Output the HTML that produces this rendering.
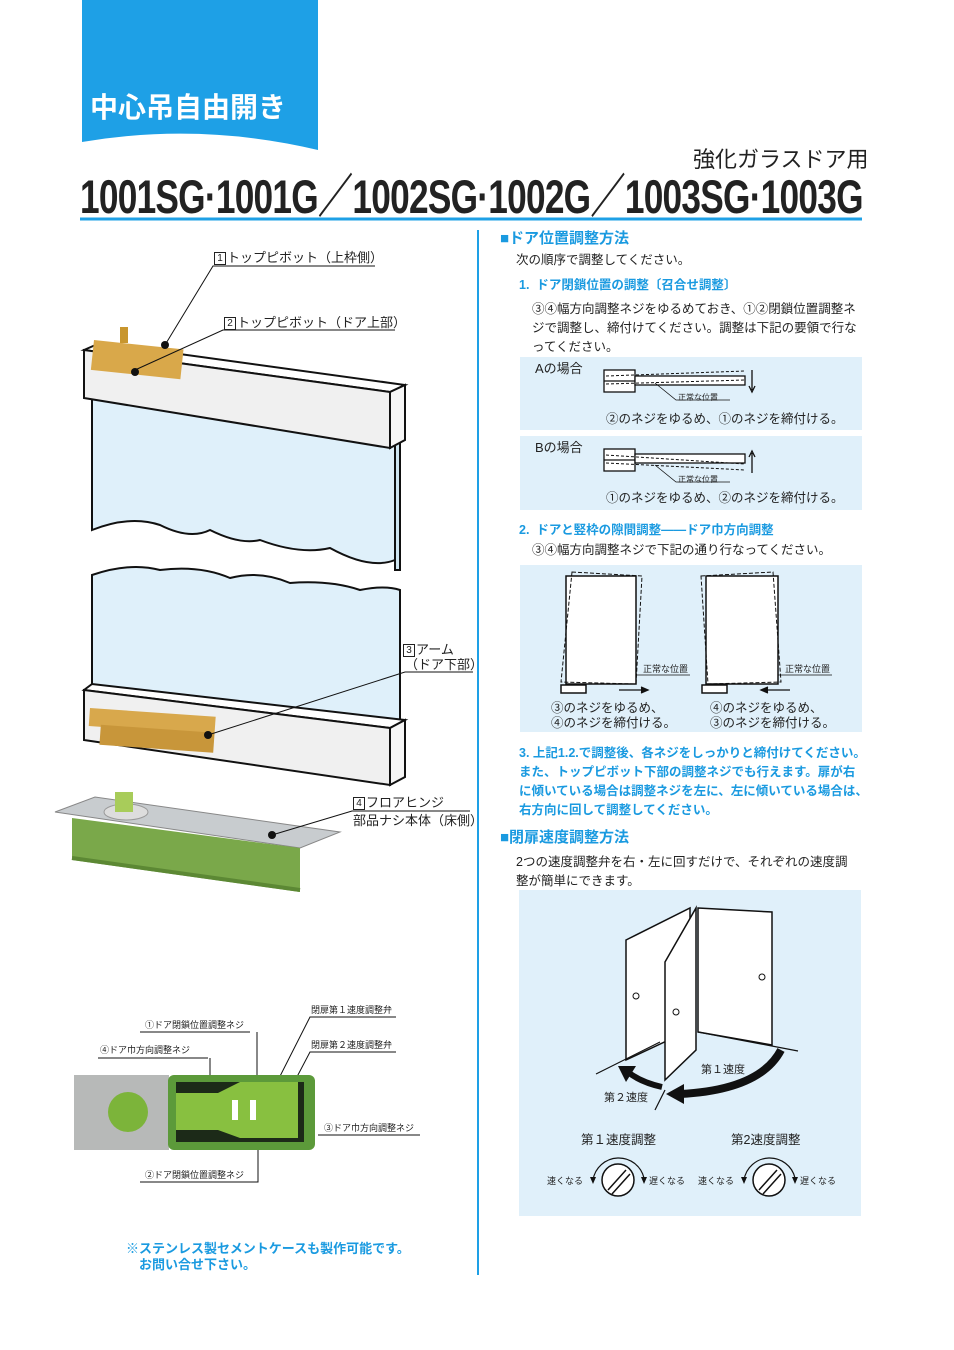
<!DOCTYPE html>
<html><head><meta charset="utf-8"><style>
body{margin:0;background:#fff}
#p{position:relative;width:954px;height:1350px;overflow:hidden;font-family:"Liberation Sans","Noto Sans CJK JP",sans-serif;color:#222}
.t{position:absolute;white-space:nowrap;line-height:1}
.b{color:#1a9ae0;font-weight:bold}
.bx{display:inline-block;border:1px solid #222;font-size:10px;line-height:11px;width:10px;text-align:center;margin-right:1px;vertical-align:1px}
svg{position:absolute;left:0;top:0}
</style></head><body><div id="p">
<svg width="954" height="1350" viewBox="0 0 954 1350">
<path d="M82 0H318V150Q200 122 82 142Z" fill="#1ea0e6"/>
<line x1="80" y1="219" x2="862" y2="219" stroke="#1ea0e6" stroke-width="3"/>
<line x1="478" y1="230" x2="478" y2="1275" stroke="#1ea0e6" stroke-width="2"/>
<rect x="520" y="357" width="342" height="73" fill="#e0f0fa"/>
<rect x="520" y="436" width="342" height="74" fill="#e0f0fa"/>
<rect x="520" y="565" width="342" height="167" fill="#e0f0fa"/>
<rect x="519" y="890" width="342" height="326" fill="#e0f0fa"/>
<g stroke="#111" fill="#fff" stroke-width="1.3">
<rect x="604" y="370" width="31" height="22"/><rect x="635" y="376" width="110" height="9"/>
<line x1="604" y1="381" x2="635" y2="381"/>
<rect x="604" y="449" width="31" height="22"/><rect x="635" y="454" width="110" height="9"/>
<line x1="604" y1="460" x2="635" y2="460"/>
</g>
<g stroke="#111" stroke-width="1" stroke-dasharray="3,2" fill="none">
<path d="M606 376L745 371M606 384L745 380"/><path d="M606 455L745 464M606 463L745 470"/>
</g>
<path d="M655 383L676 400H730M655 465L676 482H730" stroke="#111" fill="none" stroke-width=".8"/>
<path d="M752 370V390M749 386L752 392L755 386M752 473V453M749 457L752 451L755 457" stroke="#111" fill="none" stroke-width="1.3"/>
<g stroke="#111" fill="#fff" stroke-width="1.5">
<rect x="566" y="576" width="70" height="108"/><rect x="706" y="576" width="72" height="108"/>
<rect x="561" y="685" width="25" height="8"/><rect x="702" y="685" width="25" height="8"/>
</g>
<g stroke="#111" stroke-width="1" stroke-dasharray="4,2" fill="none">
<path d="M572 572L642 576L636 684L561 682Z"/><path d="M701 576L773 572L781 682L708 684Z"/>
</g>
<path d="M636 675H690M778 675H832" stroke="#111" stroke-width=".8"/>
<path d="M619 690H645M641 687L648 690L641 693M790 690H765M768 687L761 690L768 693" stroke="#111" stroke-width="1.3" fill="#111"/>
<g stroke="#111" fill="#fff" stroke-width="1.5">
<path d="M626 940L690 908V1030L626 1060Z"/>
<path d="M665 962L696 908V1050L665 1080Z"/>
<path d="M698 908L772 912V1045L698 1032Z"/>
</g>
<path d="M698 1032L798 1051M660 1042L596 1074M665 1090L655 1110" stroke="#111" stroke-width="1.2" fill="none"/>
<circle cx="636" cy="996" r="3" fill="#fff" stroke="#111"/><circle cx="676" cy="1012" r="3" fill="#fff" stroke="#111"/><circle cx="762" cy="977" r="3" fill="#fff" stroke="#111"/>
<path d="M781 1050Q760 1090 680 1094" stroke="#111" stroke-width="8" fill="none"/>
<path d="M666 1094L684 1084L684 1104Z" fill="#111"/>
<path d="M662 1087Q640 1082 628 1072" stroke="#111" stroke-width="6" fill="none"/>
<path d="M618 1066L636 1066L626 1082Z" fill="#111"/>
<g stroke="#111" fill="#fff" stroke-width="1.5">
<circle cx="618" cy="1180" r="16"/><circle cx="769" cy="1180" r="16"/>
<path d="M608 1190L626 1170M612 1194L630 1174M759 1190L777 1170M763 1194L781 1174"/>
</g>
<path d="M593 1180A26 26 0 0 1 644 1178M744 1180A26 26 0 0 1 795 1178" stroke="#111" fill="none" stroke-width="1.2"/>
<path d="M590 1177L593 1184L596 1177M641 1177L644 1184L647 1177M741 1177L744 1184L747 1177M792 1177L795 1184L798 1177" fill="#111"/>
<g stroke="#111" stroke-width="2">
<path d="M92 390V530Q130 515 160 525Q190 540 210 530Q240 545 260 540Q300 555 330 548Q370 570 395 560V440Z" fill="#dff0fa"/>
<path d="M395 440H400V570H395Z" fill="#cfe6f2"/>
<path d="M92 575Q130 562 160 570Q200 565 230 578Q260 570 290 583Q330 580 360 590Q385 585 400 590V720L92 700Z" fill="#dff0fa"/>
<path d="M84 350L100 343L405 385L390 392Z" fill="#fff"/>
<path d="M84 350V398L390 448V392Z" fill="#f0f0f0"/>
<path d="M390 392L405 385V440L390 448Z" fill="#f6f6f6"/>
<path d="M84 690L92 684L405 720L390 728Z" fill="#fff"/>
<path d="M84 690V740L390 785V728Z" fill="#f0f0f0"/>
<path d="M390 728L405 720V777L390 785Z" fill="#f6f6f6"/>
</g>
<rect x="94" y="340" width="90" height="30" fill="#d9a84a" transform="rotate(6 94 340)"/>
<rect x="120" y="327" width="8" height="16" fill="#c8962e"/>
<rect x="90" y="708" width="126" height="18" fill="#d8a84c" transform="rotate(4 90 708)"/>
<rect x="102" y="724" width="114" height="20" fill="#c8963a" transform="rotate(4 90 708)"/>
<path d="M55 812L95 797L340 832L300 848Z" fill="#c8cccf" stroke="#888"/>
<path d="M72 818L300 848V892L72 860Z" fill="#7aa84a"/>
<path d="M72 858L300 890" stroke="#5c8834" stroke-width="4"/>
<ellipse cx="126" cy="812" rx="22" ry="8" fill="#ddd" stroke="#999"/>
<rect x="115" y="792" width="18" height="20" fill="#a8cc5a"/>
<g stroke="#111" stroke-width="1" fill="none">
<path d="M375 266H213L165 345M395 330H223L135 370M473 672H405L208 735M470 811H352L272 835"/>
<path d="M250 1032H140M257 1032V1075M208 1058H98M210 1058V1075M396 1017H310L272 1092M396 1052H310L289 1092M420 1135H318M258 1150V1182H140"/>
</g>
<g fill="#111"><circle cx="165" cy="345" r="4"/><circle cx="135" cy="372" r="4"/><circle cx="208" cy="735" r="4"/><circle cx="272" cy="835" r="4"/></g>
<rect x="74" y="1075" width="95" height="75" fill="#b7b9b8"/>
<rect x="168" y="1075" width="147" height="75" rx="6" fill="#5c9a3a"/>
<rect x="176" y="1082" width="128" height="60" fill="#1c2a18"/>
<path d="M176 1093H218L240 1082H298V1138H240L218 1130H176Z" fill="#88c040"/>
<circle cx="128" cy="1112" r="20" fill="#7cb43a"/>
<rect x="232" y="1100" width="6" height="20" fill="#fff"/><rect x="250" y="1100" width="6" height="20" fill="#fff"/>
</svg>

<div class="t" style="left:90px;top:94px;font-size:28px;color:#fff;font-weight:bold">中心吊自由開き</div>
<div class="t" style="left:693px;top:149px;font-size:22px">強化ガラスドア用</div>
<div class="t" style="left:80px;top:173px;font-size:47px;font-weight:bold;transform:scaleX(0.75);transform-origin:0 0;letter-spacing:-1px">1001SG·1001G／1002SG·1002G／1003SG·1003G</div>

<div class="t" style="left:214px;top:251px;font-size:13px"><span class="bx">1</span>トップピボット（上枠側）</div>
<div class="t" style="left:224px;top:316px;font-size:13px"><span class="bx">2</span>トップピボット（ドア上部）</div>
<div class="t" style="left:403px;top:643px;font-size:13px"><span class="bx">3</span>アーム</div>
<div class="t" style="left:405px;top:658px;font-size:13px">（ドア下部）</div>
<div class="t" style="left:353px;top:796px;font-size:13px"><span class="bx">4</span>フロアヒンジ</div>
<div class="t" style="left:353px;top:814px;font-size:13px">部品ナシ本体（床側）</div>

<div class="t" style="left:311px;top:1006px;font-size:9px">閉扉第１速度調整弁</div>
<div class="t" style="left:145px;top:1021px;font-size:9px">①ドア閉鎖位置調整ネジ</div>
<div class="t" style="left:311px;top:1041px;font-size:9px">閉扉第２速度調整弁</div>
<div class="t" style="left:100px;top:1046px;font-size:9px">④ドア巾方向調整ネジ</div>
<div class="t" style="left:324px;top:1124px;font-size:9px">③ドア巾方向調整ネジ</div>
<div class="t" style="left:145px;top:1171px;font-size:9px">②ドア閉鎖位置調整ネジ</div>
<div class="t b" style="left:126px;top:1242px;font-size:13px">※ステンレス製セメントケースも製作可能です。</div>
<div class="t b" style="left:139px;top:1258px;font-size:13px">お問い合せ下さい。</div>

<div class="t b" style="left:500px;top:231px;font-size:15px">■ドア位置調整方法</div>
<div class="t" style="left:516px;top:254px;font-size:12.5px">次の順序で調整してください。</div>
<div class="t b" style="left:519px;top:279px;font-size:12.5px">1.&nbsp; ドア閉鎖位置の調整〔召合せ調整〕</div>
<div class="t" style="left:532px;top:300px;font-size:12.5px;line-height:19px">③④幅方向調整ネジをゆるめておき、①②閉鎖位置調整ネ<br>ジで調整し、締付けてください。調整は下記の要領で行な<br>ってください。</div>
<div class="t" style="left:535px;top:362px;font-size:13px">Aの場合</div>
<div class="t" style="left:678px;top:394px;font-size:8px">正常な位置</div>
<div class="t" style="left:606px;top:413px;font-size:12.5px">②のネジをゆるめ、①のネジを締付ける。</div>
<div class="t" style="left:535px;top:441px;font-size:13px">Bの場合</div>
<div class="t" style="left:678px;top:476px;font-size:8px">正常な位置</div>
<div class="t" style="left:606px;top:492px;font-size:12.5px">①のネジをゆるめ、②のネジを締付ける。</div>
<div class="t b" style="left:519px;top:524px;font-size:12.5px">2.&nbsp; ドアと竪枠の隙間調整――ドア巾方向調整</div>
<div class="t" style="left:532px;top:544px;font-size:12.5px">③④幅方向調整ネジで下記の通り行なってください。</div>
<div class="t" style="left:643px;top:665px;font-size:9px">正常な位置</div>
<div class="t" style="left:785px;top:665px;font-size:9px">正常な位置</div>
<div class="t" style="left:551px;top:701px;font-size:12.5px;line-height:15px">③のネジをゆるめ、<br>④のネジを締付ける。</div>
<div class="t" style="left:710px;top:701px;font-size:12.5px;line-height:15px">④のネジをゆるめ、<br>③のネジを締付ける。</div>
<div class="t b" style="left:519px;top:744px;font-size:12.5px;line-height:19px">3. 上記1.2.で調整後、各ネジをしっかりと締付けてください。<br>また、トップピボット下部の調整ネジでも行えます。扉が右<br>に傾いている場合は調整ネジを左に、左に傾いている場合は、<br>右方向に回して調整してください。</div>
<div class="t b" style="left:500px;top:830px;font-size:15px">■閉扉速度調整方法</div>
<div class="t" style="left:516px;top:853px;font-size:12.5px;line-height:19px">2つの速度調整弁を右・左に回すだけで、それぞれの速度調<br>整が簡単にできます。</div>
<div class="t" style="left:701px;top:1065px;font-size:11px">第１速度</div>
<div class="t" style="left:604px;top:1093px;font-size:11px">第２速度</div>
<div class="t" style="left:581px;top:1134px;font-size:12.5px">第１速度調整</div>
<div class="t" style="left:731px;top:1134px;font-size:12.5px">第2速度調整</div>
<div class="t" style="left:547px;top:1177px;font-size:9px">速くなる</div>
<div class="t" style="left:649px;top:1177px;font-size:9px">遅くなる</div>
<div class="t" style="left:698px;top:1177px;font-size:9px">速くなる</div>
<div class="t" style="left:800px;top:1177px;font-size:9px">遅くなる</div>
</div></body></html>
